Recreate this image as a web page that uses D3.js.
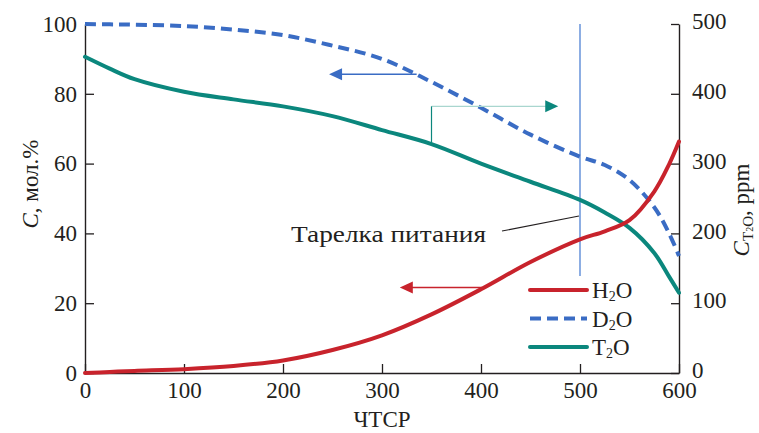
<!DOCTYPE html>
<html>
<head>
<meta charset="utf-8">
<script src="https://cdn.jsdelivr.net/npm/d3@7"></script>
<style>
  html, body { margin: 0; padding: 0; background: #fff; }
  svg { display: block; }
</style>
</head>
<body>
<svg id="chart" width="759" height="433"></svg>
<script>
// Stage number along the column (ЧТСР)
const stages = [0, 25, 50, 100, 150, 200, 250, 300, 350, 400, 450, 500, 525, 550, 575, 590, 600];
// H2O and D2O concentrations, mol.% (left axis)
const h2o = [0, 0.3, 0.6, 1.1, 2.0, 3.6, 6.6, 10.8, 16.8, 24.0, 31.8, 38.3, 40.6, 43.8, 52.0, 59.8, 66.3];
const d2o = [100, 99.9, 99.8, 99.4, 98.4, 96.8, 93.8, 90.0, 83.4, 76.0, 68.3, 62.0, 59.6, 55.3, 47.5, 40.0, 33.5];
// T2O concentration, ppm (right axis)
const t2o = [453, 436, 421, 403, 392, 382, 368, 348, 328, 300, 274, 248, 230, 208, 172, 138, 115];

const xTicks = [0, 100, 200, 300, 400, 500, 600];
const leftTicks = [0, 20, 40, 60, 80, 100];
const rightTicks = [0, 100, 200, 300, 400, 500];

// Feed tray position and its caption
const feedStage = 500;
const feedLabel = "Тарелка питания";

const colors = { h2o: "#c8232c", d2o: "#3a6cc4", t2o: "#0b877d" };
const FONT = "'Liberation Serif', 'Times New Roman', 'DejaVu Serif', serif";
const INK = "#231f20";

const svg = d3.select("#chart");
const margin = { left: 85, right: 80, top: 24, bottom: 60 };
const W = 759, H = 433;

const x = d3.scaleLinear().domain([0, 600]).range([margin.left, W - margin.right]);
const yL = d3.scaleLinear().domain([0, 100]).range([H - margin.bottom, margin.top]);
const yR = d3.scaleLinear().domain([0, 500]).range([H - margin.bottom, margin.top]);

// Axes with inward ticks
const fs = 23;
const axB = svg.append("g").attr("transform", `translate(0,${yL(0)})`)
  .call(d3.axisBottom(x).tickValues(xTicks).tickSizeInner(-9).tickSizeOuter(0).tickPadding(9));
const axL = svg.append("g").attr("transform", `translate(${x(0)},0)`)
  .call(d3.axisLeft(yL).tickValues(leftTicks).tickSizeInner(-9).tickSizeOuter(0).tickPadding(8));
const axR = svg.append("g").attr("transform", `translate(${x(600)},0)`)
  .call(d3.axisRight(yR).tickValues(rightTicks).tickSizeInner(-8).tickSizeOuter(0).tickPadding(13));

[axB, axL, axR].forEach(g => {
  g.attr("font-family", null).attr("font-size", null);
  g.selectAll("path.domain").attr("stroke", INK).attr("stroke-width", 1.4);
  g.selectAll(".tick line").attr("stroke", INK).attr("stroke-width", 1.3);
  g.selectAll(".tick text").attr("fill", INK);
});
axR.selectAll(".tick text").attr("dy", "0.2em");
axB.selectAll(".tick text").attr("dy", "0.7em");

// Feed tray marker line
svg.append("line")
  .attr("x1", x(feedStage)).attr("x2", x(feedStage))
  .attr("y1", yL(100)).attr("y2", yL(27.8))
  .attr("stroke", "#4f82d4").attr("stroke-width", 1.3);

// Series curves
const line = (yScale, vals) => d3.line()
  .x((d, i) => x(stages[i]))
  .y((d, i) => yScale(vals[i]))
  .curve(d3.curveCatmullRom.alpha(0.5))(vals);

svg.append("path").attr("d", line(yR, t2o))
  .attr("fill", "none").attr("stroke", colors.t2o).attr("stroke-width", 4).attr("stroke-linecap", "round");
svg.append("path").attr("d", line(yL, d2o))
  .attr("fill", "none").attr("stroke", colors.d2o).attr("stroke-width", 4).attr("stroke-dasharray", "11,6");
svg.append("path").attr("d", line(yL, h2o))
  .attr("fill", "none").attr("stroke", colors.h2o).attr("stroke-width", 4).attr("stroke-linecap", "round");

// Arrows pointing to the axis each curve belongs to
function arrowHead(tipX, tipY, dir, color) {
  const len = 13, half = 6;
  const bx = tipX - dir * len;
  svg.append("path")
    .attr("d", `M${tipX},${tipY} L${bx},${tipY - half} L${bx},${tipY + half} Z`)
    .attr("fill", color);
}
// H2O -> left axis
{
  const yy = yL(24.5), x1 = x(401), x2 = x(318);
  svg.append("line").attr("x1", x1).attr("x2", x2 + 10).attr("y1", yy).attr("y2", yy)
    .attr("stroke", colors.h2o).attr("stroke-width", 1.3);
  arrowHead(x2, yy, -1, colors.h2o);
}
// D2O -> left axis
{
  const yy = yL(85.6), x1 = x(335), x2 = x(246.5);
  svg.append("line").attr("x1", x1).attr("x2", x2 + 10).attr("y1", yy).attr("y2", yy)
    .attr("stroke", colors.d2o).attr("stroke-width", 1.3);
  arrowHead(x2, yy, -1, colors.d2o);
}
// T2O -> right axis
{
  const cx = x(350), yTop = yR(382), yBot = yR(329), x2 = x(478);
  svg.append("path")
    .attr("d", `M${cx},${yTop} L${x2 - 10},${yTop}`)
    .attr("fill", "none").attr("stroke", "#a9d6cf").attr("stroke-width", 1.4);
  svg.append("line").attr("x1", cx).attr("x2", cx).attr("y1", yBot).attr("y2", yTop)
    .attr("stroke", colors.t2o).attr("stroke-width", 1.2);
  arrowHead(x2, yTop, 1, colors.t2o);
}

// Feed tray caption with leader line
svg.append("text").attr("x", 291).attr("y", 242)
  .attr("textLength", 195).attr("lengthAdjust", "spacingAndGlyphs").text(feedLabel);
svg.append("line")
  .attr("x1", 502).attr("y1", 231).attr("x2", x(feedStage) - 1).attr("y2", 216)
  .attr("stroke", INK).attr("stroke-width", 1.1);

// Legend
const legend = [
  { key: "h2o", base: "H", sub: "2", tail: "O", dash: null },
  { key: "d2o", base: "D", sub: "2", tail: "O", dash: "11,6" },
  { key: "t2o", base: "T", sub: "2", tail: "O", dash: null }
];
legend.forEach((d, i) => {
  const yy = 290 + i * 28.5;
  svg.append("line").attr("x1", 530).attr("x2", 587).attr("y1", yy).attr("y2", yy)
    .attr("stroke", colors[d.key]).attr("stroke-width", 4)
    .attr("stroke-linecap", d.dash ? "butt" : "round")
    .attr("stroke-dasharray", d.dash);
  const t = svg.append("text").attr("x", 592).attr("y", yy + 8);
  t.append("tspan").text(d.base);
  t.append("tspan").style("font-size", "14px").attr("dy", 3).text(d.sub);
  t.append("tspan").attr("dy", -3).text(d.tail);
});

// Axis titles
svg.append("text").attr("x", x(300)).attr("y", 427).attr("text-anchor", "middle").text("ЧТСР");

const lt = svg.append("text").attr("transform", `translate(38,184) rotate(-90)`)
  .attr("text-anchor", "middle");
lt.append("tspan").style("font-style", "italic").text("C");
lt.append("tspan").text(", мол.%");

const rt = svg.append("text").attr("transform", `translate(749,210) rotate(-90)`)
  .attr("text-anchor", "middle");
rt.append("tspan").style("font-style", "italic").text("C");
rt.append("tspan").style("font-size", "15px").attr("dy", 4).text("T");
rt.append("tspan").style("font-size", "10px").attr("dy", 0).text("2");
rt.append("tspan").style("font-size", "15px").attr("dy", 0).text("O");
rt.append("tspan").attr("dy", -4).text(", ppm");

// Shared typography for every label
svg.selectAll("text")
  .style("font-family", FONT)
  .style("fill", INK)
  .each(function () {
    if (!this.style.fontSize) this.style.fontSize = fs + "px";
  });
</script>
</body>
</html>
